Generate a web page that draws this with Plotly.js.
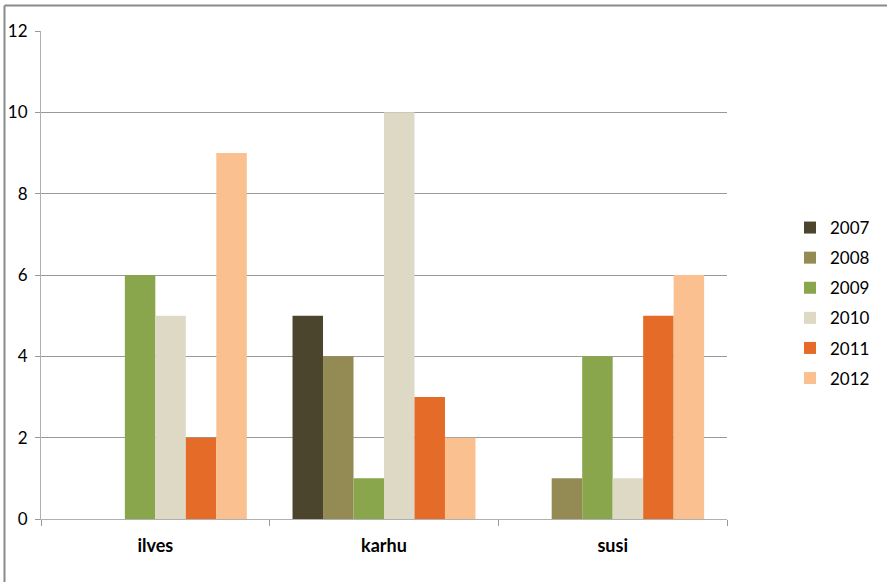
<!DOCTYPE html>
<html>
<head>
<meta charset="utf-8">
<script src="https://cdn.plot.ly/plotly-3.0.1.min.js"></script>
<style>html,body{margin:0;padding:0;background:#fff;}#chart{width:887px;height:582px;}</style>
</head>
<body>
<div id="chart"></div>
<script>
const categories = ["ilves", "karhu", "susi"];
const years = ["2007", "2008", "2009", "2010", "2011", "2012"];
const v2007 = [0, 5, 0];
const v2008 = [0, 4, 1];
const v2009 = [6, 1, 4];
const v2010 = [5, 10, 1];
const v2011 = [2, 3, 5];
const v2012 = [9, 2, 6];
const seriesValues = [v2007, v2008, v2009, v2010, v2011, v2012];
const colors = ["#4a452c", "#948a54", "#8aa64c", "#ddd9c4", "#e46c28", "#fac08f"];

const traces = years.map((y, i) => ({
  type: "bar",
  name: y,
  legendgroup: "g" + i,
  x: categories,
  y: seriesValues[i],
  marker: {color: colors[i], line: {width: 0}},
  hoverinfo: "x+y+name"
}));

const W = 887, H = 582, L = 41, R = 160, T = 31, B = 63;
const pw = W - L - R, ph = H - T - B;
const px = v => (v - L) / pw;
const py = v => (H - B - v) / ph;

const layout = {
  width: W, height: H,
  margin: {l: L, r: R, t: T, b: B, pad: 0, autoexpand: false},
  paper_bgcolor: "#ffffff",
  plot_bgcolor: "#ffffff",
  font: {family: "Lato, 'Open Sans', sans-serif", size: 17, color: "#000"},
  barmode: "group",
  bargap: 0.2,
  bargroupgap: 0,
  showlegend: true,
  legend: {
    x: px(790), y: py(210), xanchor: "left", yanchor: "top",
    font: {size: 17, color: "#000"},
    traceorder: "grouped",
    tracegroupgap: 5,
    bgcolor: "rgba(0,0,0,0)",
    itemwidth: 30
  },
  xaxis: {
    type: "category",
    range: [-0.5, 2.5],
    showgrid: false,
    showline: true, linecolor: "#b0b0b0", linewidth: 1,
    ticks: "outside", tickson: "boundaries", ticklen: 6, tickcolor: "#999",
    ticklabelstandoff: 10,
    tickfont: {size: 18, color: "#000", family: "Lato, sans-serif", weight: "bold"},
    zeroline: false,
    fixedrange: true
  },
  yaxis: {
    range: [0, 12],
    dtick: 2,
    showgrid: true, gridcolor: "#999999", gridwidth: 1,
    showline: true, linecolor: "#b0b0b0", linewidth: 1,
    ticks: "outside", ticklen: 5, tickcolor: "#999",
    ticklabelstandoff: 4,
    tickfont: {size: 17, color: "#000"},
    zeroline: false,
    fixedrange: true
  },
  shapes: [
    {type: "line", xref: "paper", yref: "paper", x0: px(4.5), x1: px(887), y0: py(5.5), y1: py(5.5), line: {color: "#8a8a8a", width: 2}},
    {type: "line", xref: "paper", yref: "paper", x0: px(4.5), x1: px(4.5), y0: py(5.5), y1: py(582), line: {color: "#8a8a8a", width: 2}}
  ]
};

Plotly.newPlot("chart", traces, layout, {displayModeBar: false, staticPlot: true});
</script>
</body>
</html>
